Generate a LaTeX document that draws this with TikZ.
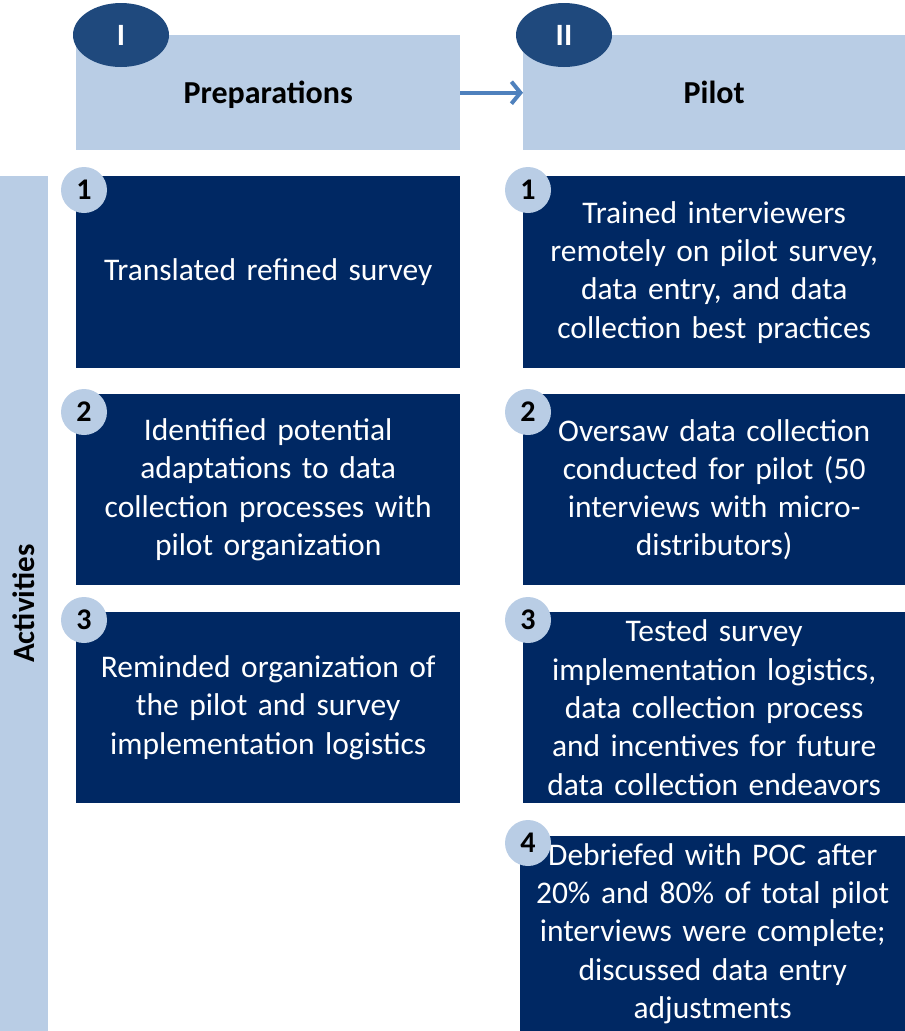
\documentclass[tikz,border=0pt]{standalone}
\usepackage{fontspec}
\setmainfont{Carlito}
\usetikzlibrary{positioning,shapes.geometric,arrows.meta}
\definecolor{lightblue}{HTML}{B9CDE5}
\definecolor{navy}{HTML}{002863}
\definecolor{darkblue}{HTML}{1F497D}
\definecolor{arrowblue}{HTML}{4F81BD}
\tikzset{
  phase/.style={rectangle, fill=lightblue, anchor=north west, minimum width=384pt, minimum height=115pt, inner sep=0pt, text height=22pt, text depth=0pt, font=\fontsize{32}{36}\selectfont\bfseries},
  tag/.style={ellipse, fill=darkblue, minimum width=96pt, minimum height=64pt, inner sep=0pt, text=white, font=\fontsize{31}{36}\selectfont\bfseries},
  activity/.style={rectangle, fill=navy, anchor=north west, minimum width=384pt, minimum height=192pt, inner sep=0pt, text width=376pt, align=center, text=white, font=\fontsize{31.5}{38.3}\selectfont},
  num/.style={circle, fill=lightblue, minimum size=46pt, inner sep=0pt, font=\fontsize{30}{34}\selectfont\bfseries}
}
\begin{document}
\begin{tikzpicture}[x=1pt,y=-1pt]
\useasboundingbox (0,0) rectangle (905,1031);
% headers
\node (prep) [phase] at (76,35) {Preparations};
\node (pilot) [phase, minimum width=382pt] at (523,35) {Pilot};
\node (tagI) [tag] at (121,35) {I};
\node (tagII) [tag] at (564,35) {II};
\draw [-{Straight Barb[length=9pt,width=22pt]}, line width=4pt, arrowblue] (prep.east) -- (pilot.west);
% side bar
\node (side) [rectangle, fill=lightblue, anchor=north west, minimum width=48pt, minimum height=855pt, inner sep=0pt] at (0,176) {};
\node (activities) [rotate=90, font=\fontsize{31}{36}\selectfont\bfseries] at (side.center) {Activities};
% preparations column
\node (prepa) [activity] at (76,176) {Translated refined survey};
\node (prepb) [activity, minimum height=191pt] at (76,394) {Identified potential\\adaptations to data\\collection processes with\\pilot organization};
\node (prepc) [activity, minimum height=191pt] at (76,612) {Reminded organization of\\the pilot and survey\\implementation logistics};
% pilot column
\node (pilota) [activity, minimum width=382pt] at (523,176) {Trained interviewers\\remotely on pilot survey,\\data entry, and data\\collection best practices};
\node (pilotb) [activity, minimum width=382pt, minimum height=191pt] at (523,394) {Oversaw data collection\\conducted for pilot (50\\interviews with micro-\\distributors)};
\node (pilotc) [activity, minimum width=382pt, minimum height=191pt] at (523,612) {Tested survey\\implementation logistics,\\data collection process\\and incentives for future\\data collection endeavors};
\node (pilotd) [activity, minimum width=385pt, minimum height=195pt] at (520,836) {Debriefed with POC after\\20\% and 80\% of total pilot\\interviews were complete;\\discussed data entry\\adjustments};
% numbers
\node (na) [num] at (84,190) {1};
\node (nb) [num] at (84,412) {2};
\node (nc) [num] at (84,620) {3};
\node (pa) [num] at (528,190) {1};
\node (pb) [num] at (528,412) {2};
\node (pc) [num] at (528,620) {3};
\node (pd) [num] at (528,843) {4};
\end{tikzpicture}
\end{document}
